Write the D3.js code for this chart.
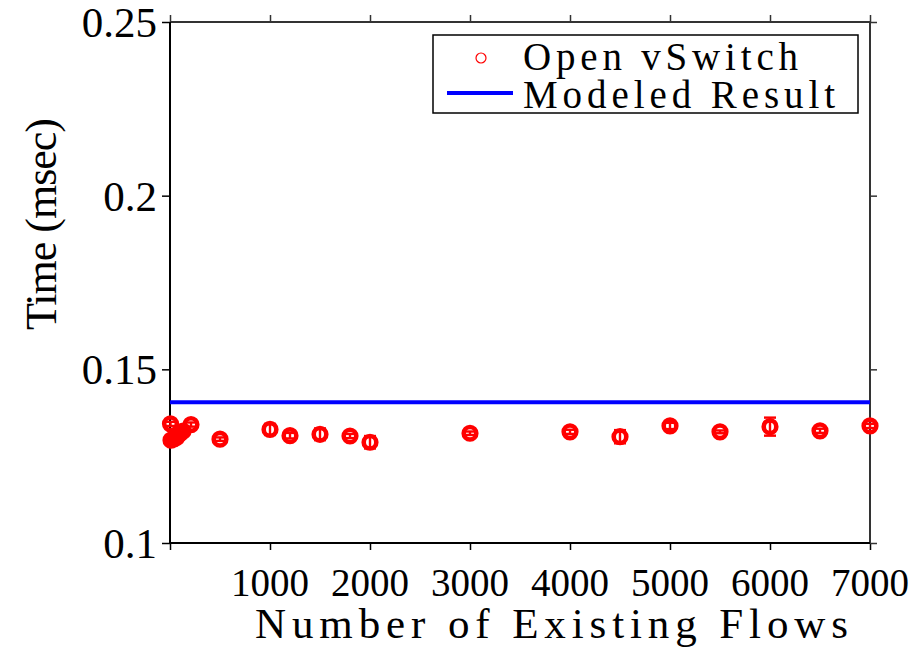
<!DOCTYPE html>
<html>
<head>
<meta charset="utf-8">
<script src="https://cdnjs.cloudflare.com/ajax/libs/d3/7.8.5/d3.min.js"></script>
<style>
  html, body { margin: 0; padding: 0; background: #fff; }
  svg { display: block; }
</style>
</head>
<body>
<svg id="chart" width="921" height="648"></svg>
<script>
// Measured flow-setup time of Open vSwitch against the number of installed flows
const flows = [5, 10, 40, 70, 100, 130, 210, 500, 1000, 1200, 1500, 1800, 2000, 3000, 4000, 4500, 5000, 5500, 6000, 6500, 7000];
const timeMs = [0.1343, 0.1296, 0.1300, 0.1305, 0.1315, 0.1322, 0.1341, 0.1299, 0.1327, 0.1309, 0.1313, 0.1308, 0.1290, 0.1316, 0.1320, 0.1306, 0.1337, 0.1320, 0.1335, 0.1323, 0.1337];
const errMs = [0.0006, 0.0006, 0.0006, 0.0006, 0.0006, 0.0006, 0.0006, 0.0005, 0.0016, 0.0008, 0.0017, 0.0006, 0.0018, 0.0005, 0.0006, 0.0019, 0.0009, 0.0004, 0.0026, 0.0006, 0.0006];
const modeledMs = 0.1405;

const xTicks = [1000, 2000, 3000, 4000, 5000, 6000, 7000];
const yTicks = [0.1, 0.15, 0.2, 0.25];
const yTickLabels = ["0.1", "0.15", "0.2", "0.25"];
const xDomain = [0, 7000];
const yDomain = [0.1, 0.25];
const seriesNames = ["Open vSwitch", "Modeled Result"];

const FONT = '"Liberation Serif", serif';

const svg = d3.select("#chart");
const plotL = 170, plotR = 870, plotT = 22, plotB = 543;

const x = d3.scaleLinear().domain(xDomain).range([plotL, plotR]);
const y = d3.scaleLinear().domain(yDomain).range([plotB, plotT]);

function label(sel) {
  return sel.append("text").style("font-family", FONT).attr("fill", "#000");
}

// Plot frame with outward ticks on all four sides
function styleAxis(g, color) {
  g.selectAll(".domain").remove();
  g.selectAll(".tick line").attr("stroke", color).attr("stroke-width", 1.5);
}
const allX = [0].concat(xTicks);
svg.append("g").attr("transform", `translate(0,${plotB})`)
  .call(d3.axisBottom(x).tickValues(allX).tickSize(7).tickFormat(""))
  .call(g => styleAxis(g, "#000"));
svg.append("g").attr("transform", `translate(0,${plotT})`)
  .call(d3.axisTop(x).tickValues(allX).tickSize(7).tickFormat(""))
  .call(g => styleAxis(g, "#333"));
svg.append("g").attr("transform", `translate(${plotL},0)`)
  .call(d3.axisLeft(y).tickValues(yTicks).tickSize(8).tickFormat(""))
  .call(g => styleAxis(g, "#000"));
svg.append("g").attr("transform", `translate(${plotR},0)`)
  .call(d3.axisRight(y).tickValues(yTicks).tickSize(7).tickFormat(""))
  .call(g => styleAxis(g, "#333"));

svg.append("line").attr("x1", plotL).attr("x2", plotR).attr("y1", plotT).attr("y2", plotT)
  .attr("stroke", "#333").attr("stroke-width", 2);
svg.append("line").attr("x1", plotR).attr("x2", plotR).attr("y1", plotT).attr("y2", plotB)
  .attr("stroke", "#333").attr("stroke-width", 2);
svg.append("line").attr("x1", plotL).attr("x2", plotR).attr("y1", plotB).attr("y2", plotB)
  .attr("stroke", "#000").attr("stroke-width", 2);
svg.append("line").attr("x1", plotL).attr("x2", plotL).attr("y1", plotT).attr("y2", plotB)
  .attr("stroke", "#000").attr("stroke-width", 2);

// Tick labels
const xl = svg.append("g");
xTicks.forEach(d => label(xl)
  .attr("x", x(d)).attr("y", 596)
  .attr("text-anchor", "middle").attr("font-size", 39)
  .text(String(d)));
const yl = svg.append("g");
yTicks.forEach((d, i) => label(yl)
  .attr("x", 157).attr("y", y(d) + 15)
  .attr("text-anchor", "end").attr("font-size", 43)
  .text(yTickLabels[i]));

// Axis titles
label(svg).attr("x", 255).attr("y", 638)
  .attr("font-size", 43).attr("textLength", 593).attr("lengthAdjust", "spacing")
  .text("Number of Existing Flows");
label(svg).attr("transform", "translate(56,330) rotate(-90)")
  .attr("font-size", 44).attr("textLength", 212).attr("lengthAdjust", "spacing")
  .text("Time (msec)");

// Modeled result
svg.append("line")
  .attr("x1", x(xDomain[0])).attr("x2", x(xDomain[1]))
  .attr("y1", y(modeledMs)).attr("y2", y(modeledMs))
  .attr("stroke", "#0000ff").attr("stroke-width", 4);

// Measurements with error bars
const pts = flows.map((f, i) => ({ f, v: timeMs[i], e: errMs[i] }));
const mk = svg.append("g");
const capW = 6;
pts.forEach(p => {
  const cx = x(p.f), y0 = y(p.v - p.e), y1 = y(p.v + p.e);
  mk.append("line").attr("x1", cx).attr("x2", cx).attr("y1", y0).attr("y2", y1)
    .attr("stroke", "#ff0000").attr("stroke-width", 2.4);
  [y0, y1].forEach(yy => mk.append("line")
    .attr("x1", cx - capW).attr("x2", cx + capW).attr("y1", yy).attr("y2", yy)
    .attr("stroke", "#ff0000").attr("stroke-width", 2.4));
  mk.append("circle").attr("cx", cx).attr("cy", y(p.v)).attr("r", 6.3)
    .attr("fill", "none").attr("stroke", "#ff0000").attr("stroke-width", 4.6);
});

// Legend
const lg = svg.append("g");
lg.append("rect").attr("x", 433).attr("y", 35).attr("width", 425).attr("height", 78)
  .attr("fill", "#fff").attr("stroke", "#000").attr("stroke-width", 1.5);
lg.append("circle").attr("cx", 481).attr("cy", 58).attr("r", 5)
  .attr("fill", "none").attr("stroke", "#ff0000").attr("stroke-width", 1.2);
lg.append("line").attr("x1", 447).attr("x2", 513).attr("y1", 93).attr("y2", 93)
  .attr("stroke", "#0000ff").attr("stroke-width", 4);
label(lg).attr("x", 523).attr("y", 70).attr("font-size", 39)
  .attr("textLength", 275).attr("lengthAdjust", "spacing").text(seriesNames[0]);
label(lg).attr("x", 523).attr("y", 108).attr("font-size", 39)
  .attr("textLength", 312).attr("lengthAdjust", "spacing").text(seriesNames[1]);
</script>
</body>
</html>
